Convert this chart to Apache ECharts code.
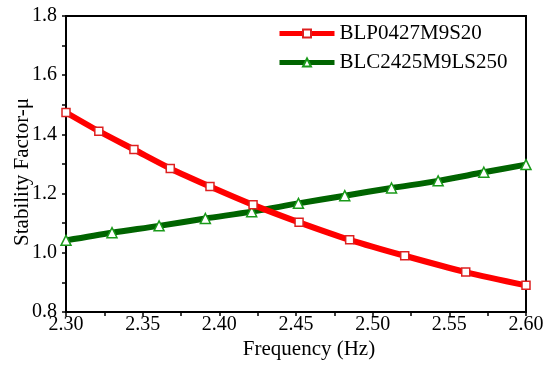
<!DOCTYPE html>
<html>
<head>
<meta charset="utf-8">
<script src="https://cdn.jsdelivr.net/npm/echarts@6/dist/echarts.min.js"></script>
<style>
  html, body { margin: 0; padding: 0; background: #fff; }
  #chart { width: 545px; height: 365px; }
</style>
</head>
<body>
<div id="chart"></div>
<script>
// values
const seriesNames = ['BLP0427M9S20', 'BLC2425M9LS250'];

const blpFreq = [2.300, 2.3214, 2.3443, 2.3680, 2.3939, 2.4220, 2.4520, 2.4850, 2.5209, 2.5607, 2.600];
const blpMu = [1.474, 1.411, 1.349, 1.285, 1.224, 1.162, 1.103, 1.044, 0.990, 0.935, 0.890];

const blcFreq = [2.300, 2.3300, 2.3607, 2.3909, 2.4211, 2.4516, 2.4818, 2.5123, 2.5427, 2.5725, 2.600];
const blcMu = [1.042, 1.068, 1.091, 1.116, 1.139, 1.167, 1.193, 1.219, 1.243, 1.272, 1.298];

const xTicks = [2.30, 2.35, 2.40, 2.45, 2.50, 2.55, 2.60];
const yTicks = [0.8, 1.0, 1.2, 1.4, 1.6, 1.8];

const font = '"Liberation Serif", "Times New Roman", serif';

const chart = echarts.init(document.getElementById('chart'));

const axisCommon = {
  axisLine: { show: true, onZero: false, lineStyle: { color: '#000', width: 2 } },
  axisTick: { show: true, inside: false, length: 4, lineStyle: { color: '#000', width: 1.5 } },
  minorTick: { show: true, splitNumber: 2, length: 4, lineStyle: { color: '#000', width: 1.5 } },
  splitLine: { show: false },
};

const option = {
  animation: false,
  grid: {
    left: 66,
    right: 19,
    top: 16,
    bottom: 53,
    outerBoundsMode: 'none',
    containLabel: false,
    show: true,
    borderColor: '#000',
    borderWidth: 2,
    backgroundColor: 'transparent',
  },
  legend: {
    left: 277,
    top: 23,
    padding: 0,
    orient: 'vertical',
    itemWidth: 55,
    itemHeight: 10,
    itemGap: 8,
    lineStyle: { width: 5 },
    textStyle: { fontFamily: font, fontSize: 21, color: '#000' },
    data: seriesNames,
  },
  xAxis: {
    type: 'value',
    min: xTicks[0],
    max: xTicks[xTicks.length - 1],
    interval: 0.05,
    name: 'Frequency (Hz)',
    nameLocation: 'middle',
    nameGap: 27,
    nameMoveOverlap: false,
    nameTextStyle: { fontFamily: font, fontSize: 21, color: '#000', padding: [0, 0, 0, 26] },
    axisLabel: {
      margin: 3,
      fontFamily: font,
      fontSize: 20,
      color: '#000',
      formatter: (v) => v.toFixed(2),
    },
    ...axisCommon,
  },
  yAxis: {
    type: 'value',
    min: yTicks[0],
    max: yTicks[yTicks.length - 1],
    interval: 0.2,
    name: 'Stability Factor-\u03bc',
    nameLocation: 'middle',
    nameGap: 33,
    nameMoveOverlap: false,
    nameTextStyle: { fontFamily: font, fontSize: 21, color: '#000', padding: [0, 16, 0, 0] },
    axisLabel: {
      margin: 9,
      fontFamily: font,
      fontSize: 20,
      color: '#000',
      formatter: (v) => v.toFixed(1),
    },
    ...axisCommon,
  },
  series: [
    {
      name: seriesNames[0],
      type: 'line',
      smooth: 0.3,
      data: blpFreq.map((f, i) => [f, blpMu[i]]),
      lineStyle: { color: '#ff0000', width: 6 },
      symbol: 'rect',
      symbolSize: 8,
      itemStyle: { color: '#ffffff', borderColor: '#dd2020', borderWidth: 1.5 },
      z: 3,
    },
    {
      name: seriesNames[1],
      type: 'line',
      smooth: 0.3,
      data: blcFreq.map((f, i) => [f, blcMu[i]]),
      lineStyle: { color: '#006400', width: 6 },
      symbol: 'triangle',
      symbolSize: 10,
      itemStyle: { color: '#ffffff', borderColor: '#1a9a1a', borderWidth: 1.5 },
      z: 2,
    },
  ],
};

chart.setOption(option);
window.addEventListener('resize', () => chart.resize());
</script>
</body>
</html>
